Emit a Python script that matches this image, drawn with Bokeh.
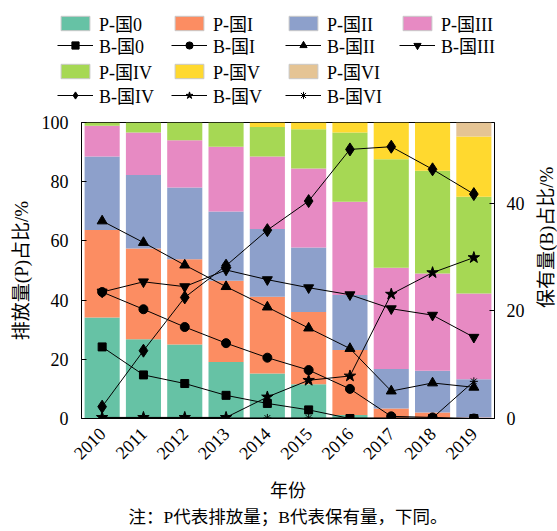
import math
from bokeh.plotting import figure
from bokeh.layouts import column, row
from bokeh.models import (FactorRange, Range1d, LinearAxis, Legend, LegendItem,
                          Title, Label, ColumnDataSource, SingleIntervalTicker)
from bokeh.embed import file_html
from bokeh.resources import INLINE

years = [str(y) for y in range(2010, 2020)]

# P: emission share (%) by class, stacked
p0 = [34.1, 26.8, 25.0, 19.1, 15.2, 11.6, 1.2, 0.2, 0.1, 0.0]
p1 = [29.6, 30.6, 28.8, 27.4, 25.9, 24.4, 21.9, 3.2, 1.9, 0.3]
p2 = [24.8, 24.9, 24.2, 23.4, 22.9, 21.8, 18.6, 13.3, 14.1, 13.0]
p3 = [10.4, 14.3, 16.0, 21.9, 24.5, 26.7, 31.5, 34.2, 32.9, 28.9]
p4 = [1.1, 3.4, 6.0, 8.2, 10.0, 13.2, 23.4, 36.7, 34.7, 32.7]
p5 = [0.0, 0.0, 0.0, 0.0, 1.5, 2.3, 3.4, 12.4, 16.3, 20.4]
p6 = [0.0, 0.0, 0.0, 0.0, 0.0, 0.0, 0.0, 0.0, 0.0, 4.7]

# B: ownership share (%) by class, lines on right axis
b0 = [13.3, 8.1, 6.5, 4.3, 2.8, 1.6, 0.0, 0.0, 0.0, 0.0]
b1 = [23.5, 20.3, 17.0, 14.0, 11.3, 9.0, 5.5, 0.4, 0.2, 0.0]
b2 = [36.7, 32.7, 28.5, 24.5, 20.7, 16.8, 13.0, 5.1, 6.6, 5.8]
b3 = [23.5, 25.4, 24.5, 27.6, 25.8, 24.3, 23.0, 20.4, 19.2, 15.1]
b4 = [2.2, 12.6, 22.5, 28.4, 35.0, 40.4, 50.0, 50.5, 46.3, 41.7]
b5 = [0.2, 0.2, 0.2, 0.2, 4.0, 7.1, 7.9, 23.1, 27.1, 29.9]
b6 = [0.1, 0.1, 0.1, 0.1, 0.1, 0.1, 0.1, 0.1, 0.1, 6.9]

classes = ["0", "I", "II", "III", "IV", "V", "VI"]
p_labels = ["P-国" + c for c in classes]
b_labels = ["B-国" + c for c in classes]
colors = ["#66c2a5", "#fc8d62", "#8da0cb", "#e78ac3", "#a6d854", "#ffd92f", "#e5c494"]
markers = ["square", "circle", "triangle", "inverted_triangle", "diamond", "star", "asterisk"]
msizes = [8, 9, 10, 10, 13, 12, 8]
leg_msizes = [7, 7, 9, 9, 11, 11, 7]

left_title = "排放量(P)占比/%"
right_title = "保有量(B)占比/%"
x_title = "年份"
note_text = "注：P代表排放量；B代表保有量，下同。"

FONT = "Liberation Serif, Noto Sans CJK SC"

src = ColumnDataSource(dict(year=years, p0=p0, p1=p1, p2=p2, p3=p3, p4=p4, p5=p5, p6=p6,
                            b0=b0, b1=b1, b2=b2, b3=b3, b4=b4, b5=b5, b6=b6))

# ---------------- legend strip ----------------
LEG_H = 108
leg = figure(width=557, height=LEG_H, x_range=Range1d(0, 1), y_range=Range1d(0, 1),
             output_backend="svg", toolbar_location=None, min_border=0,
             x_axis_location=None, y_axis_location=None, outline_line_color=None)
leg.grid.visible = False

# legend sample renderers: one off-screen sample each so the legend can style its glyph
lp = [leg.vbar(x=[-10], top=[-10], width=0.5, fill_color=c, line_color="#c8c8c8", line_width=1)
      for c in colors]
lb = []
for m, s in zip(markers, leg_msizes):
    ln = leg.line(x=[-10, -9], y=[-10, -10], line_color="black", line_width=1)
    sc = leg.scatter(x=[-10], y=[-10], marker=m, size=s, fill_color="black", line_color="black")
    lb.append([ln, sc])

rows_items = [
    [LegendItem(label=p_labels[i], renderers=[lp[i]]) for i in range(4)],
    [LegendItem(label=b_labels[i], renderers=lb[i]) for i in range(4)],
    [LegendItem(label=p_labels[i], renderers=[lp[i]]) for i in range(4, 7)],
    [LegendItem(label=b_labels[i], renderers=lb[i]) for i in range(4, 7)],
]
row_vy = [72, 50, 24, 0]
for its, vy in zip(rows_items, row_vy):
    lg = Legend(items=its, orientation="horizontal", location=(57, vy),
                padding=0, margin=0, spacing=4,
                glyph_width=36, glyph_height=18, label_standoff=6, label_width=68,
                label_height=20, label_text_font=FONT, label_text_font_size="18px",
                label_text_color="black", border_line_color=None, background_fill_alpha=0)
    leg.add_layout(lg)

# ---------------- main chart ----------------
TOP = 14
p = figure(frame_width=413, frame_height=296, x_range=FactorRange(*years),
           y_range=Range1d(0, 100), output_backend="svg", toolbar_location=None,
           min_border_left=81, min_border_right=30, min_border_top=TOP, min_border_bottom=109)
p.extra_y_ranges = {"right": Range1d(0, 55)}
p.grid.visible = False
p.outline_line_color = "black"
p.outline_line_alpha = 1
p.outline_line_width = 1

pkeys = ["p0", "p1", "p2", "p3", "p4", "p5", "p6"]
p.vbar_stack(pkeys, x="year", width=0.85, color=colors, line_color=None, source=src)

bkeys = ["b0", "b1", "b2", "b3", "b4", "b5", "b6"]
for k, m, s in zip(bkeys, markers, msizes):
    p.line("year", k, source=src, y_range_name="right", line_color="black", line_width=1)
    p.scatter("year", k, source=src, y_range_name="right", marker=m, size=s,
              fill_color="black", line_color="black", line_width=1)

ya = p.yaxis[0]
ya.ticker = SingleIntervalTicker(interval=20)
ya.axis_label = left_title
ya.axis_label_standoff = 7
ya.major_label_standoff = 9

rax = LinearAxis(y_range_name="right", ticker=SingleIntervalTicker(interval=20),
                 major_label_standoff=8)
p.add_layout(rax, "right")

for ax in [ya, rax]:
    ax.major_tick_in = 5
    ax.major_tick_out = 0

xa = p.xaxis[0]
xa.major_label_orientation = math.pi / 4
xa.major_tick_in = 0
xa.major_tick_out = 0
xa.major_label_standoff = 12
xa.axis_label = x_title
xa.axis_label_standoff = 13

for ax in [ya, rax, xa]:
    ax.minor_tick_line_color = None
    ax.axis_line_color = "black"
    ax.major_tick_line_color = "black"
    ax.major_label_text_font = FONT
    ax.major_label_text_font_size = "18px"
    ax.major_label_text_color = "black"
    ax.axis_label_text_font = FONT
    ax.axis_label_text_font_size = "19px"
    ax.axis_label_text_font_style = "normal"
    ax.axis_label_text_color = "black"
xa.axis_label_text_font_size = "18px"

note = Title(text=note_text, align="center", text_font=FONT,
             text_font_size="17.5px", text_font_style="normal", text_color="black", standoff=1)
p.add_layout(note, "below")

# ---------------- right axis title strip ----------------
RH = 423
rfig = figure(width=33, height=RH, x_range=Range1d(0, 33), y_range=Range1d(0, RH),
              output_backend="svg", toolbar_location=None, min_border=0,
              x_axis_location=None, y_axis_location=None, outline_line_color=None)
rfig.grid.visible = False
rfig.add_layout(Label(x=19, y=RH - (TOP + 148), text=right_title, angle=math.pi / 2,
                      text_align="center", text_baseline="middle", text_font=FONT,
                      text_font_size="19px", text_color="black"))

layout = column(leg, row(p, rfig))
open("out.html", "w").write(file_html(layout, INLINE))
